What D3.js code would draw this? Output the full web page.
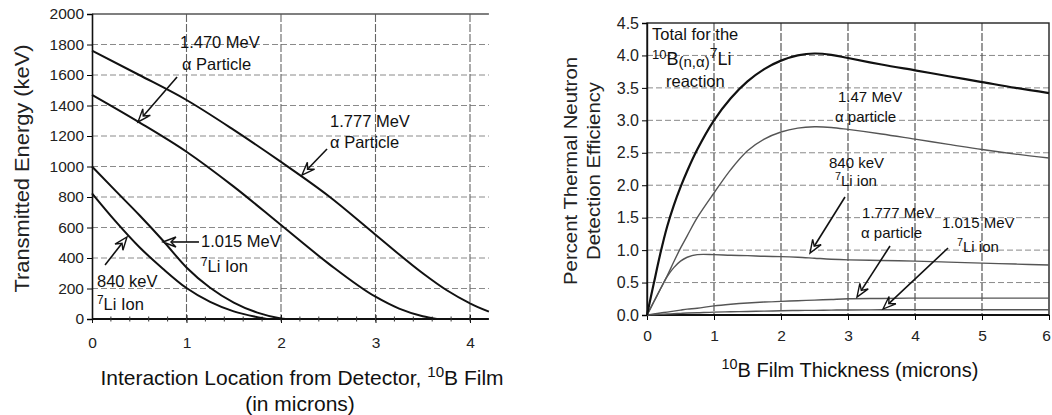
<!DOCTYPE html>
<html>
<head>
<meta charset="utf-8">
<script src="https://cdn.jsdelivr.net/npm/d3@7"></script>
<style>
  html, body { margin: 0; padding: 0; background: #fff; }
  svg { display: block; font-family: "Liberation Sans", Arial, Helvetica, sans-serif; }
</style>
</head>
<body>
<svg id="fig" width="1052" height="415"></svg>
<script>
// ---- Left panel: transmitted energy vs interaction depth (microns) ----
const alpha1777X = [0, 0.5, 1, 1.5, 2, 2.5, 3, 3.5, 3.75, 4, 4.2];
const alpha1777E = [1760, 1600, 1436, 1240, 1030, 808, 553, 300, 190, 103, 48];
const alpha1470X = [0, 0.5, 1, 1.5, 2, 2.5, 3, 3.25, 3.5, 3.65];
const alpha1470E = [1470, 1290, 1097, 868, 616, 365, 146, 68, 18, 0];
const li1015X = [0, 0.25, 0.5, 0.75, 1, 1.25, 1.5, 1.75, 2, 2.05];
const li1015E = [1000, 840, 682, 515, 338, 205, 108, 42, 4, 0];
const li840X = [0, 0.25, 0.5, 0.75, 1, 1.25, 1.5, 1.75, 1.85];
const li840E = [824, 640, 472, 330, 203, 112, 50, 12, 0];
const leftYTicks = [0, 200, 400, 600, 800, 1000, 1200, 1400, 1600, 1800, 2000];
const leftXTicks = [0, 1, 2, 3, 4];

// ---- Right panel: detection efficiency vs film thickness (microns) ----
const thickness = [0, 0.1, 0.2, 0.3, 0.4, 0.5, 0.6, 0.75, 1, 1.25, 1.5, 1.75, 2, 2.25, 2.5, 2.75, 3, 3.5, 4, 4.5, 5, 5.5, 6];
const effTotal  = [0, 0.48, 0.95, 1.36, 1.69, 1.97, 2.22, 2.55, 3.0, 3.34, 3.6, 3.79, 3.92, 4.0, 4.03, 4.01, 3.96, 3.86, 3.77, 3.68, 3.59, 3.5, 3.42];
const effA1470  = [0, 0.2, 0.4, 0.6, 0.82, 1.03, 1.22, 1.5, 1.88, 2.24, 2.53, 2.71, 2.82, 2.88, 2.9, 2.89, 2.86, 2.79, 2.71, 2.63, 2.55, 2.48, 2.42];
const effLi840  = [0, 0.2, 0.4, 0.59, 0.73, 0.83, 0.89, 0.93, 0.93, 0.92, 0.915, 0.905, 0.9, 0.89, 0.875, 0.86, 0.85, 0.84, 0.83, 0.815, 0.8, 0.785, 0.77];
const effA1777  = [0, 0.015, 0.03, 0.045, 0.06, 0.075, 0.09, 0.105, 0.14, 0.165, 0.185, 0.2, 0.21, 0.22, 0.23, 0.24, 0.25, 0.255, 0.26, 0.26, 0.26, 0.26, 0.26];
const effLi1015 = [0, 0.005, 0.01, 0.015, 0.02, 0.025, 0.03, 0.035, 0.045, 0.05, 0.055, 0.06, 0.065, 0.07, 0.072, 0.075, 0.078, 0.08, 0.08, 0.08, 0.08, 0.08, 0.08];
const rightYTicks = [0, 0.5, 1, 1.5, 2, 2.5, 3, 3.5, 4, 4.5];
const rightXTicks = [0, 1, 2, 3, 4, 5, 6];

const svg = d3.select("#fig");
const zip = (xs, ys) => xs.map((x, i) => [x, ys[i]]);
const FONT = "'Liberation Sans', Arial, sans-serif";

// open, outlined arrow head pointing at (x2,y2)
function arrow(g, x1, y1, x2, y2) {
  const ang = Math.atan2(y2 - y1, x2 - x1);
  const L = 13, W = 5, notch = 8;
  const ux = Math.cos(ang), uy = Math.sin(ang);
  const bx = x2 - ux * L, by = y2 - uy * L;
  const nx = x2 - ux * notch, ny = y2 - uy * notch;
  g.append("line").attr("x1", x1).attr("y1", y1).attr("x2", nx).attr("y2", ny)
    .attr("stroke", "#111").attr("stroke-width", 1.6);
  g.append("path")
    .attr("d", `M${x2},${y2} L${bx - uy * W},${by + ux * W} L${nx},${ny} L${bx + uy * W},${by - ux * W} Z`)
    .attr("fill", "#fff").attr("stroke", "#111").attr("stroke-width", 1.4).attr("stroke-linejoin", "miter");
}

// text with optional superscript pieces: parts = [[text, "sup"?]]
function label(g, x, y, parts, size, anchor) {
  const t = g.append("text").attr("x", x).attr("y", y)
    .attr("font-size", size).attr("fill", "#111").attr("text-anchor", anchor || "start");
  let raised = false;
  parts.forEach(([s, kind]) => {
    const sp = t.append("tspan").text(s);
    if (kind === "sup" && !raised) { sp.attr("dy", -size * 0.38).attr("font-size", size * 0.72); raised = true; }
    else if (kind === "sup") { sp.attr("font-size", size * 0.72); }
    else if (raised) { sp.attr("dy", size * 0.38); raised = false; }
  });
  return t;
}

// ================= Left panel =================
{
  const x = d3.scaleLinear().domain([0, 4.2]).range([92, 92 + 4.2 * 94.5]);
  const y = d3.scaleLinear().domain([0, 2000]).range([319, 14]);
  const g = svg.append("g");

  g.selectAll("line.hg").data(leftYTicks.filter(d => d > 0 && d < 2000)).join("line")
    .attr("x1", x(0)).attr("x2", x(4.2)).attr("y1", d => y(d)).attr("y2", d => y(d))
    .attr("stroke", "#8a8a8a").attr("stroke-width", 1).attr("stroke-dasharray", "6,3");
  g.selectAll("line.vg").data(leftXTicks.filter(d => d > 0)).join("line")
    .attr("x1", d => x(d)).attr("x2", d => x(d)).attr("y1", y(2000)).attr("y2", y(0))
    .attr("stroke", "#666").attr("stroke-width", 1.1).attr("stroke-dasharray", "8,2");
  g.append("line").attr("x1", x(0)).attr("x2", x(4.2)).attr("y1", y(2000)).attr("y2", y(2000))
    .attr("stroke", "#555").attr("stroke-width", 1.3);

  const yAxis = d3.axisLeft(y).tickValues(leftYTicks).tickSize(5).tickPadding(3).tickFormat(d3.format("d"));
  const ga = g.append("g").attr("transform", `translate(${x(0)},0)`).call(yAxis);
  ga.select(".domain").attr("stroke", "#111").attr("stroke-width", 1.6);
  ga.selectAll("text").attr("font-size", 15.5).attr("fill", "#222").attr("font-family", FONT);

  const xAxis = d3.axisBottom(x).tickValues(leftXTicks).tickSize(4).tickPadding(14).tickFormat(d3.format("d"));
  const gx = g.append("g").attr("transform", `translate(0,${y(0)})`).call(xAxis);
  gx.select(".domain").attr("stroke", "#111").attr("stroke-width", 2).attr("d", `M${x(0)},0H${x(4.2)}`);
  gx.selectAll("text").attr("font-size", 15.5).attr("fill", "#222").attr("font-family", FONT);
  gx.selectAll(".tick line").attr("y1", -4).attr("stroke", "#111");
  // minor ticks every 0.2 micron
  g.selectAll("line.mt").data(d3.range(0.2, 4.2, 0.2)).join("line")
    .attr("x1", d => x(d)).attr("x2", d => x(d)).attr("y1", y(0) - 2.5).attr("y2", y(0) + 2.5)
    .attr("stroke", "#333").attr("stroke-width", 1);

  const line = d3.line().x(d => x(d[0])).y(d => y(d[1])).curve(d3.curveMonotoneX);
  [[alpha1777X, alpha1777E], [alpha1470X, alpha1470E], [li1015X, li1015E], [li840X, li840E]]
    .forEach(([xs, ys]) => {
      g.append("path").datum(zip(xs, ys)).attr("d", line)
        .attr("fill", "none").attr("stroke", "#111").attr("stroke-width", 2);
    });

  const fs = 16.5;
  label(g, x(0.931), y(1777), [["1.470 MeV"]], fs);
  label(g, x(0.952), y(1633), [["\u03b1 Particle"]], fs);
  arrow(g, x(0.9), y(1587), x(0.487), y(1292));

  label(g, x(2.519), y(1259), [["1.777 MeV"]], fs);
  label(g, x(2.519), y(1121), [["\u03b1 Particle"]], fs);
  arrow(g, x(2.487), y(1115), x(2.222), y(944));

  label(g, x(1.153), y(472), [["1.015 MeV"]], fs);
  label(g, x(1.153), y(308), [["7", "sup"], ["Li Ion"]], fs);
  arrow(g, x(1.132), y(505), x(0.751), y(505));

  label(g, x(0.053), y(210), [["840 keV"]], fs);
  label(g, x(0.053), y(59), [["7", "sup"], ["Li Ion"]], fs);
  arrow(g, x(0.138), y(354), x(0.370), y(538));

  g.append("text").attr("transform", `translate(29,${(y(0) + y(2000)) / 2 + 2}) rotate(-90)`)
    .attr("text-anchor", "middle").attr("font-size", 19.5).attr("fill", "#222")
    .attr("textLength", 248).attr("lengthAdjust", "spacingAndGlyphs")
    .text("Transmitted Energy (keV)");
  label(g, 302, 385, [["Interaction Location from Detector, "], ["10", "sup"], ["B Film"]], 21, "middle");
  label(g, 300, 411, [["(in microns)"]], 21, "middle");
}

// ================= Right panel =================
{
  const x = d3.scaleLinear().domain([0, 6]).range([647, 1049]);
  const y = d3.scaleLinear().domain([0, 4.5]).range([315, 23]);
  const g = svg.append("g");

  g.selectAll("line.hg").data(rightYTicks.filter(d => d > 0 && d < 4.5)).join("line")
    .attr("x1", x(0)).attr("x2", x(6)).attr("y1", d => y(d)).attr("y2", d => y(d))
    .attr("stroke", "#8a8a8a").attr("stroke-width", 1).attr("stroke-dasharray", "6,3");
  g.selectAll("line.vg").data(rightXTicks.filter(d => d > 0 && d < 6)).join("line")
    .attr("x1", d => x(d)).attr("x2", d => x(d)).attr("y1", y(4.5)).attr("y2", y(0))
    .attr("stroke", "#555").attr("stroke-width", 1.2).attr("stroke-dasharray", "8,2");
  g.append("rect").attr("x", x(0)).attr("y", y(4.5)).attr("width", x(6) - x(0)).attr("height", y(0) - y(4.5))
    .attr("fill", "none").attr("stroke", "#222").attr("stroke-width", 1.4);

  const yAxis = d3.axisLeft(y).tickValues(rightYTicks).tickSize(5).tickPadding(3).tickFormat(d3.format(".1f"));
  const ga = g.append("g").attr("transform", `translate(${x(0)},0)`).call(yAxis);
  ga.select(".domain").attr("stroke", "#111").attr("stroke-width", 1.4);
  ga.selectAll("text").attr("font-size", 16).attr("fill", "#222").attr("font-family", FONT);

  const xAxis = d3.axisBottom(x).tickValues(rightXTicks).tickSize(5).tickPadding(10).tickFormat(d3.format("d"));
  const gx = g.append("g").attr("transform", `translate(0,${y(0)})`).call(xAxis);
  gx.select(".domain").attr("stroke", "#111").attr("stroke-width", 1.8).attr("d", `M${x(0)},0H${x(6)}`);
  gx.selectAll("text").attr("font-size", 15.5).attr("fill", "#222").attr("font-family", FONT)
    .attr("dx", d => d === 6 ? -3 : 0);

  const line = d3.line().x((d, i) => x(thickness[i])).y(d => y(d)).curve(d3.curveCatmullRom.alpha(0.5));
  [effA1470, effLi840, effA1777, effLi1015].forEach(vals => {
    g.append("path").datum(vals).attr("d", line)
      .attr("fill", "none").attr("stroke", "#555").attr("stroke-width", 1.4);
  });
  g.append("path").datum(effTotal).attr("d", line)
    .attr("fill", "none").attr("stroke", "#111").attr("stroke-width", 2.2);

  const fs = 15;
  label(g, x(0.075), y(4.238), [["Total for the"]], 16.5);
  const t2 = g.append("text").attr("x", x(0.075)).attr("y", y(3.853)).attr("font-size", 18).attr("fill", "#111");
  t2.append("tspan").text("10").attr("font-size", 13).attr("dy", -6);
  t2.append("tspan").text("B").attr("dy", 6);
  t2.append("tspan").text("(n,\u03b1)").attr("font-size", 15).attr("dy", 2);
  t2.append("tspan").text("7").attr("font-size", 14).attr("dy", -9);
  t2.append("tspan").text("Li").attr("dy", 7);
  label(g, x(0.284), y(3.514), [["reaction"]], 16.5);

  label(g, x(2.851), y(3.282), [["1.47 MeV"]], fs);
  label(g, x(2.806), y(2.974), [["\u03b1 particle"]], fs);

  label(g, x(2.716), y(2.265), [["840 keV"]], fs);
  label(g, x(2.806), y(1.988), [["7", "sup"], ["Li ion"]], fs);
  arrow(g, x(2.955), y(1.818), x(2.433), y(0.955));

  label(g, x(3.209), y(1.495), [["1.777 MeV"]], fs);
  label(g, x(3.194), y(1.187), [["\u03b1 particle"]], fs);
  arrow(g, x(3.627), y(1.063), x(3.134), y(0.277));

  label(g, x(4.403), y(1.341), [["1.015 MeV"]], fs);
  label(g, x(4.627), y(0.971), [["7", "sup"], ["Li ion"]], fs);
  arrow(g, x(4.493), y(1.032), x(3.522), y(0.092));

  const cy = 171;
  g.append("text").attr("transform", `translate(577,${cy}) rotate(-90)`)
    .attr("text-anchor", "middle").attr("font-size", 18).attr("fill", "#222")
    .attr("textLength", 228).attr("lengthAdjust", "spacingAndGlyphs")
    .text("Percent Thermal Neutron");
  g.append("text").attr("transform", `translate(600,${cy}) rotate(-90)`)
    .attr("text-anchor", "middle").attr("font-size", 18).attr("fill", "#222")
    .attr("textLength", 178).attr("lengthAdjust", "spacingAndGlyphs")
    .text("Detection Efficiency");
  label(g, 850, 377, [["10", "sup"], ["B Film Thickness (microns)"]], 20, "middle");
}
</script>
</body>
</html>
